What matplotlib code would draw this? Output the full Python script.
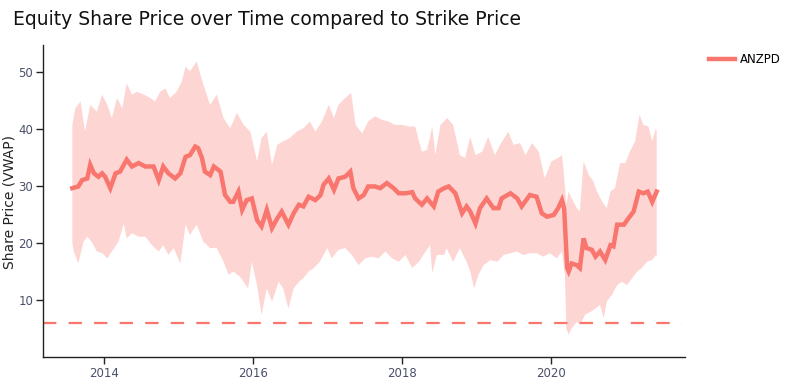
# Equity share price (VWAP) over time with its band, against the strike price
import pandas as pd
import matplotlib
matplotlib.use("Agg")
import matplotlib.pyplot as plt
import matplotlib.dates as mdates

# --- data (decimal years, share price) ---
vwap_t = [2013.58, 2013.66, 2013.71, 2013.78, 2013.82, 2013.87, 2013.93, 2013.98, 2014.02, 2014.09,
          2014.16, 2014.22, 2014.31, 2014.38, 2014.47, 2014.56, 2014.67, 2014.74, 2014.80, 2014.87,
          2014.96, 2015.03, 2015.10, 2015.16, 2015.23, 2015.27, 2015.32, 2015.36, 2015.43, 2015.48,
          2015.57, 2015.63, 2015.70, 2015.74, 2015.81, 2015.86, 2015.92, 2015.99, 2016.06, 2016.12,
          2016.19, 2016.26, 2016.33, 2016.39, 2016.48, 2016.55, 2016.62, 2016.68, 2016.75, 2016.84,
          2016.91, 2016.95, 2017.02, 2017.09, 2017.15, 2017.24, 2017.31, 2017.35, 2017.42, 2017.49,
          2017.55, 2017.64, 2017.71, 2017.80, 2017.89, 2017.96, 2018.05, 2018.14, 2018.18, 2018.27,
          2018.34, 2018.43, 2018.49, 2018.57, 2018.63, 2018.72, 2018.81, 2018.87, 2018.92, 2018.99,
          2019.05, 2019.14, 2019.23, 2019.30, 2019.34, 2019.46, 2019.55, 2019.61, 2019.72, 2019.81,
          2019.88, 2019.95, 2020.04, 2020.10, 2020.15, 2020.18, 2020.22, 2020.24, 2020.28, 2020.35,
          2020.39, 2020.44, 2020.48, 2020.55, 2020.60, 2020.66, 2020.73, 2020.80, 2020.84, 2020.89,
          2020.98, 2021.04, 2021.11, 2021.18, 2021.24, 2021.30, 2021.36, 2021.42]
vwap = [29.6, 29.9, 31.0, 31.3, 33.7, 32.2, 31.6, 32.2, 31.6, 29.6,
        32.2, 32.5, 34.6, 33.4, 34.0, 33.4, 33.4, 31.0, 33.4, 32.2,
        31.3, 32.2, 35.1, 35.4, 36.9, 36.6, 34.9, 32.5, 31.9, 33.4,
        32.5, 28.4, 27.2, 27.2, 29.0, 25.8, 27.5, 27.8, 24.0, 22.9,
        25.8, 22.6, 24.3, 25.5, 23.2, 25.2, 26.7, 26.4, 28.1, 27.5,
        28.4, 30.2, 31.3, 29.3, 31.3, 31.6, 32.5, 29.6, 27.8, 28.4,
        29.9, 29.9, 29.6, 30.5, 29.6, 28.7, 28.7, 28.9, 27.8, 26.7,
        27.8, 26.4, 29.0, 29.6, 29.9, 28.7, 25.2, 26.4, 25.5, 23.4,
        26.1, 27.8, 26.1, 26.1, 27.8, 28.7, 27.8, 26.4, 28.4, 28.1,
        25.2, 24.6, 24.9, 26.1, 27.5, 26.0, 15.6, 15.0, 16.4, 16.1,
        15.6, 20.8, 19.1, 18.8, 17.6, 18.5, 17.0, 19.6, 19.4, 23.2,
        23.2, 24.3, 25.5, 29.0, 28.7, 29.0, 27.2, 29.0]

upper_t = [2013.58, 2013.62, 2013.69, 2013.75, 2013.82, 2013.91, 2013.98, 2014.05, 2014.11, 2014.18,
           2014.25, 2014.31, 2014.38, 2014.45, 2014.54, 2014.63, 2014.69, 2014.76, 2014.83, 2014.89,
           2014.98, 2015.05, 2015.10, 2015.16, 2015.25, 2015.34, 2015.43, 2015.52, 2015.61, 2015.70,
           2015.79, 2015.88, 2015.97, 2016.06, 2016.12, 2016.19, 2016.26, 2016.33, 2016.41, 2016.50,
           2016.59, 2016.68, 2016.77, 2016.84, 2016.93, 2017.02, 2017.09, 2017.15, 2017.24, 2017.32,
           2017.38, 2017.47, 2017.55, 2017.64, 2017.73, 2017.82, 2017.91, 2018.00, 2018.09, 2018.18,
           2018.27, 2018.34, 2018.41, 2018.45, 2018.52, 2018.61, 2018.69, 2018.78, 2018.85, 2018.92,
           2018.99, 2019.08, 2019.16, 2019.25, 2019.32, 2019.43, 2019.50, 2019.59, 2019.66, 2019.75,
           2019.84, 2019.92, 2020.01, 2020.10, 2020.15, 2020.17, 2020.21, 2020.24, 2020.28, 2020.35,
           2020.39, 2020.44, 2020.51, 2020.57, 2020.62, 2020.69, 2020.75, 2020.80, 2020.86, 2020.93,
           2021.00, 2021.06, 2021.13, 2021.19, 2021.24, 2021.31, 2021.36, 2021.41, 2021.42]
upper = [40.7, 43.6, 44.8, 39.5, 44.2, 43.0, 46.0, 44.2, 41.9, 45.4,
         43.6, 48.0, 46.0, 46.5, 46.0, 45.4, 44.8, 46.5, 47.1, 45.4,
         46.5, 48.3, 50.9, 50.1, 51.8, 47.7, 44.2, 46.0, 41.9, 40.1,
         42.8, 40.7, 39.5, 34.3, 38.4, 39.5, 33.7, 37.2, 37.8, 38.4,
         39.5, 40.1, 41.3, 39.5, 41.3, 44.2, 41.9, 44.2, 45.4, 46.3,
         40.7, 39.2, 41.3, 42.2, 41.6, 41.3, 40.7, 40.7, 40.4, 40.4,
         36.0, 36.3, 40.4, 35.4, 40.7, 41.9, 40.7, 35.4, 34.9, 38.6,
         35.4, 36.0, 38.6, 35.4, 37.2, 39.5, 37.2, 37.5, 35.4, 37.5,
         36.0, 31.3, 34.3, 34.9, 35.4, 33.1, 26.7, 29.0, 27.8, 26.1,
         25.5, 34.3, 31.9, 30.8, 29.0, 27.2, 26.1, 29.0, 29.6, 34.0,
         34.0, 36.0, 37.8, 42.5, 40.7, 40.4, 37.8, 40.1, 39.5]

lower_t = [2013.58, 2013.60, 2013.66, 2013.73, 2013.78, 2013.84, 2013.91, 2013.98, 2014.05, 2014.11,
           2014.20, 2014.27, 2014.31, 2014.38, 2014.47, 2014.56, 2014.65, 2014.74, 2014.80, 2014.87,
           2014.94, 2015.03, 2015.10, 2015.16, 2015.25, 2015.34, 2015.43, 2015.52, 2015.61, 2015.68,
           2015.74, 2015.83, 2015.94, 2015.99, 2016.06, 2016.12, 2016.19, 2016.26, 2016.35, 2016.41,
           2016.48, 2016.55, 2016.62, 2016.68, 2016.75, 2016.82, 2016.90, 2017.00, 2017.06, 2017.15,
           2017.24, 2017.33, 2017.42, 2017.51, 2017.60, 2017.69, 2017.78, 2017.87, 2017.96, 2018.05,
           2018.14, 2018.23, 2018.32, 2018.38, 2018.41, 2018.47, 2018.57, 2018.60, 2018.69, 2018.78,
           2018.87, 2018.92, 2018.97, 2019.03, 2019.10, 2019.19, 2019.28, 2019.37, 2019.46, 2019.55,
           2019.63, 2019.72, 2019.81, 2019.90, 2019.99, 2020.08, 2020.15, 2020.19, 2020.21, 2020.24,
           2020.28, 2020.35, 2020.39, 2020.46, 2020.53, 2020.60, 2020.66, 2020.71, 2020.75, 2020.82,
           2020.89, 2020.95, 2021.02, 2021.09, 2021.16, 2021.22, 2021.29, 2021.36, 2021.41, 2021.42]
lower = [20.0, 18.5, 16.4, 20.2, 21.1, 20.2, 18.5, 18.2, 17.3, 18.5,
         20.2, 23.4, 20.8, 21.7, 21.1, 21.1, 19.6, 18.5, 19.6, 17.9,
         19.1, 16.4, 23.2, 21.4, 23.2, 20.2, 19.1, 19.1, 16.7, 14.4,
         15.0, 14.1, 12.0, 16.7, 12.6, 7.4, 12.0, 9.7, 13.2, 12.0,
         8.5, 12.0, 13.2, 13.8, 15.0, 15.6, 16.7, 19.1, 17.3, 18.8,
         19.1, 17.9, 16.1, 17.3, 17.6, 17.3, 18.5, 17.3, 16.7, 17.9,
         15.6, 16.7, 18.5, 19.6, 14.7, 17.9, 17.9, 19.1, 16.7, 19.1,
         16.7, 15.0, 12.0, 14.4, 16.1, 17.0, 16.7, 17.9, 18.2, 18.5,
         17.9, 18.2, 18.2, 17.6, 18.2, 17.3, 18.5, 14.4, 5.0, 3.9,
         5.0, 6.2, 5.6, 7.4, 7.9, 8.5, 9.1, 6.8, 9.7, 10.9,
         12.6, 13.2, 12.6, 13.8, 15.0, 15.6, 16.7, 17.0, 17.9, 17.5]

strike_price = 6.0
ticker = "ANZPD"


def to_date(t):
    # decimal year -> timestamp
    year = int(t)
    start = pd.Timestamp(year, 1, 1)
    return start + (pd.Timestamp(year + 1, 1, 1) - start) * (t - year)


vwap_d = [to_date(t) for t in vwap_t]
upper_d = [to_date(t) for t in upper_t]
lower_d = [to_date(t) for t in lower_t]

line_col = "#F8766D"
band_col = "#FDD5D3"
tick_col = "#4a5068"

fig = plt.figure(figsize=(7.85, 3.88), dpi=100)
ax = fig.add_axes([0.0548, 0.0799, 0.8178, 0.8041])

# band as one polygon: upper edge then lower edge backwards
band_x = mdates.date2num(upper_d + lower_d[::-1])
band_y = upper + lower[::-1]
ax.fill(band_x, band_y, color=band_col, linewidth=0, zorder=1)

ax.plot(vwap_d, vwap, color=line_col, linewidth=3.2, solid_joinstyle="miter", zorder=3, label=ticker)
ax.axhline(strike_price, color=line_col, linewidth=1.6, dashes=(6, 5.5), xmax=0.996, zorder=2)

ax.set_xlim(pd.Timestamp("2013-03-10"), pd.Timestamp("2021-10-20"))
ax.set_ylim(0, 54.7)
ax.xaxis.set_major_locator(mdates.YearLocator(2))
ax.xaxis.set_major_formatter(mdates.DateFormatter("%Y"))
ax.set_yticks([10, 20, 30, 40, 50])

for side in ["top", "right"]:
    ax.spines[side].set_visible(False)
for side in ["left", "bottom"]:
    ax.spines[side].set_linewidth(1.0)
    ax.spines[side].set_color("#222222")
ax.tick_params(direction="out", length=5, width=1, color="#222222", labelsize=8.5, labelcolor=tick_col, pad=2)

fig.text(0.0115, 0.48, "Share Price (VWAP)", rotation=90, ha="center", va="center",
         fontsize=10, color="#222222")
fig.text(0.016, 0.935, "Equity Share Price over Time compared to Strike Price", fontsize=13.5, color="#111111")

fig.legend(loc="upper left", bbox_to_anchor=(0.897, 0.875), frameon=False, fontsize=8.5,
           handlelength=2.2, handletextpad=0.45, borderaxespad=0)

fig.savefig("out.png", dpi=100)
